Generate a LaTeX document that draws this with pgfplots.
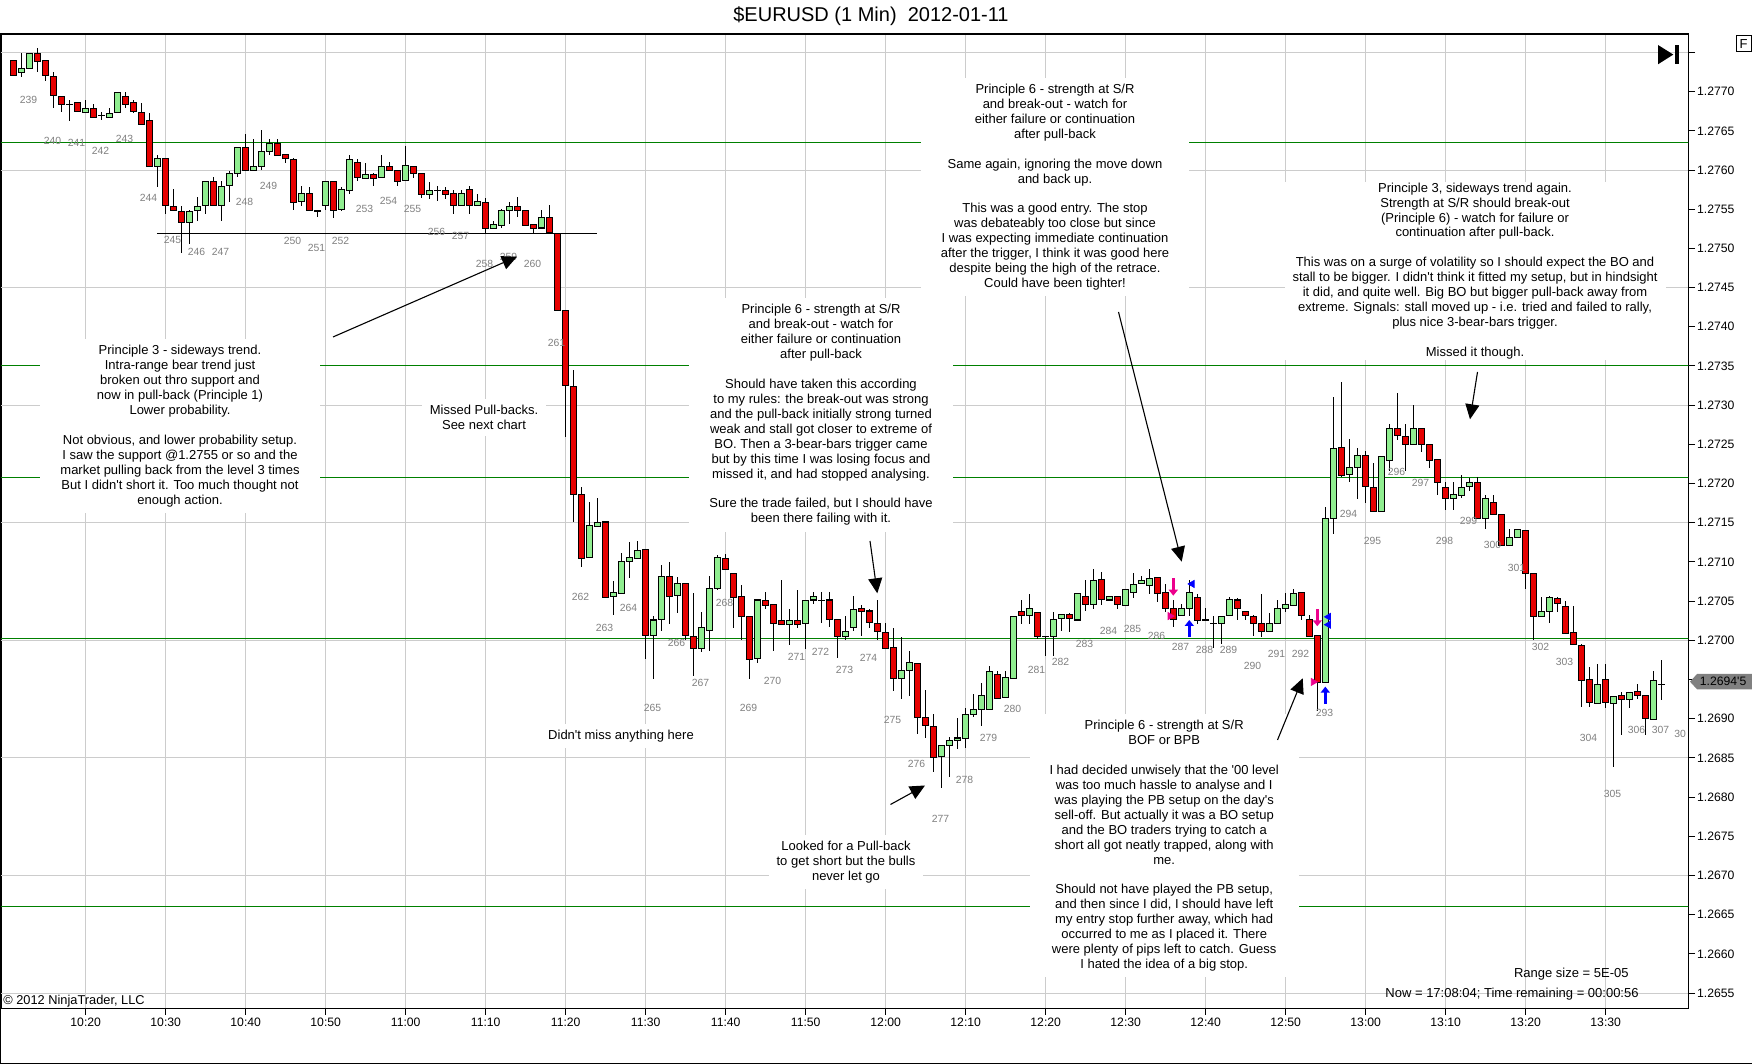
\documentclass[border=0pt]{standalone}
\usepackage{fontspec}
\setmainfont{Liberation Sans}
\newfontfamily\plain{Liberation Sans}
\usepackage{pgfplots}
\usepackage{pgfplotstable}
\pgfplotsset{compat=1.18}
\usetikzlibrary{arrows.meta}
\definecolor{upgreen}{RGB}{144,238,144}
\definecolor{downred}{RGB}{230,0,0}
\definecolor{lvlgreen}{RGB}{0,128,0}
\definecolor{gridgray}{RGB}{204,204,204}
\definecolor{lblgray}{RGB}{128,128,128}
\definecolor{tagray}{RGB}{128,128,128}
\newcommand\tickfont{\plain\fontsize{6.1}{7}\selectfont}
\newcommand\annfont{\plain\fontsize{6.5}{7.47}\selectfont}
\newcommand\barfont{\plain\fontsize{5.2}{6}\selectfont}
\pgfplotsset{nomarks/.style={only marks, mark=*, mark size=0.01pt, mark options={opacity=0, draw opacity=0, fill opacity=0}}}

\pgfplotstableread{
t o h l c
11 1.27740 1.27740 1.27720 1.27720
12 1.27725 1.27751 1.27720 1.27730
13 1.27730 1.27750 1.27730 1.27750
14 1.27750 1.27756 1.27725 1.27740
15 1.27740 1.27740 1.27714 1.27720
16 1.27720 1.27725 1.27680 1.27695
17 1.27695 1.27695 1.27674 1.27685
18 1.27685 1.27690 1.27664 1.27685
19 1.27685 1.27685 1.27674 1.27674
20 1.27674 1.27690 1.27674 1.27680
21 1.27680 1.27685 1.27669 1.27669
22 1.27671 1.27674 1.27664 1.27671
23 1.27669 1.27680 1.27669 1.27674
24 1.27674 1.27700 1.27674 1.27700
25 1.27695 1.27700 1.27680 1.27685
26 1.27685 1.27690 1.27674 1.27674
27 1.27674 1.27685 1.27659 1.27659
28 1.27664 1.27674 1.27605 1.27605
29 1.27605 1.27620 1.27579 1.27615
30 1.27615 1.27615 1.27544 1.27555
31 1.27555 1.27576 1.27549 1.27549
32 1.27549 1.27555 1.27494 1.27535
33 1.27535 1.27549 1.27505 1.27549
34 1.27549 1.27566 1.27535 1.27555
35 1.27555 1.27586 1.27544 1.27586
36 1.27586 1.27591 1.27555 1.27555
37 1.27555 1.27586 1.27535 1.27580
38 1.27580 1.27600 1.27560 1.27596
39 1.27596 1.27630 1.27591 1.27630
40 1.27630 1.27646 1.27600 1.27600
41 1.27600 1.27640 1.27600 1.27605
42 1.27605 1.27651 1.27600 1.27625
43 1.27625 1.27640 1.27620 1.27635
44 1.27635 1.27640 1.27620 1.27620
45 1.27620 1.27620 1.27610 1.27615
46 1.27615 1.27615 1.27549 1.27560
47 1.27560 1.27580 1.27555 1.27570
48 1.27570 1.27580 1.27549 1.27549
49 1.27549 1.27549 1.27540 1.27549
50 1.27555 1.27586 1.27549 1.27586
51 1.27586 1.27586 1.27540 1.27549
52 1.27549 1.27580 1.27549 1.27575
53 1.27575 1.27620 1.27570 1.27615
54 1.27610 1.27615 1.27586 1.27591
55 1.27591 1.27610 1.27591 1.27596
56 1.27596 1.27596 1.27580 1.27591
57 1.27591 1.27620 1.27591 1.27605
58 1.27605 1.27610 1.27600 1.27600
59 1.27600 1.27600 1.27580 1.27586
60 1.27586 1.27630 1.27586 1.27605
61 1.27605 1.27605 1.27591 1.27596
62 1.27596 1.27596 1.27565 1.27570
63 1.27570 1.27586 1.27565 1.27575
64 1.27575 1.27580 1.27560 1.27575
65 1.27575 1.27580 1.27565 1.27570
66 1.27570 1.27575 1.27545 1.27555
67 1.27555 1.27575 1.27555 1.27570
68 1.27575 1.27580 1.27545 1.27555
69 1.27555 1.27570 1.27555 1.27560
70 1.27560 1.27565 1.27520 1.27526
71 1.27526 1.27536 1.27526 1.27531
72 1.27531 1.27550 1.27526 1.27550
73 1.27550 1.27560 1.27531 1.27555
74 1.27555 1.27566 1.27540 1.27550
75 1.27550 1.27550 1.27531 1.27531
76 1.27531 1.27531 1.27520 1.27526
77 1.27526 1.27549 1.27526 1.27540
78 1.27540 1.27555 1.27520 1.27520
79 1.27520 1.27520 1.27421 1.27421
80 1.27421 1.27421 1.27261 1.27325
81 1.27325 1.27346 1.27151 1.27187
82 1.27187 1.27197 1.27095 1.27106
83 1.27106 1.27177 1.27106 1.27147
84 1.27147 1.27182 1.27147 1.27152
85 1.27152 1.27152 1.27056 1.27056
86 1.27056 1.27076 1.27032 1.27061
87 1.27061 1.27111 1.27061 1.27101
88 1.27101 1.27127 1.27081 1.27106
89 1.27106 1.27127 1.27106 1.27116
90 1.27116 1.27116 1.26977 1.27007
91 1.27007 1.27032 1.26952 1.27027
92 1.27027 1.27096 1.27012 1.27082
93 1.27082 1.27101 1.27022 1.27057
94 1.27057 1.27082 1.27037 1.27072
95 1.27072 1.27072 1.27002 1.27006
96 1.27006 1.27062 1.26956 1.26991
97 1.26991 1.27037 1.26986 1.27017
98 1.27012 1.27082 1.26986 1.27066
99 1.27066 1.27111 1.27066 1.27106
100 1.27106 1.27111 1.27092 1.27092
101 1.27087 1.27087 1.27017 1.27057
102 1.27057 1.27072 1.27002 1.27032
103 1.27032 1.27032 1.26952 1.26977
104 1.26977 1.27052 1.26972 1.27052
105 1.27052 1.27062 1.27041 1.27046
106 1.27046 1.27046 1.26986 1.27022
107 1.27027 1.27077 1.27022 1.27022
108 1.27022 1.27041 1.26996 1.27027
109 1.27027 1.27066 1.27017 1.27022
110 1.27022 1.27052 1.26991 1.27052
111 1.27052 1.27062 1.27046 1.27057
112 1.27052 1.27062 1.27022 1.27052
113 1.27052 1.27062 1.27017 1.27027
114 1.27027 1.27027 1.26977 1.27006
115 1.27006 1.27032 1.27002 1.27012
116 1.27017 1.27057 1.27012 1.27041
117 1.27041 1.27046 1.27006 1.27037
118 1.27037 1.27041 1.27017 1.27022
119 1.27022 1.27052 1.27002 1.27012
120 1.27012 1.27022 1.26991 1.26991
121 1.26991 1.27017 1.26937 1.26952
122 1.26952 1.27006 1.26927 1.26962
123 1.26962 1.26987 1.26930 1.26972
124 1.26972 1.26972 1.26882 1.26902
125 1.26902 1.26937 1.26876 1.26892
126 1.26892 1.26907 1.26832 1.26852
127 1.26852 1.26867 1.26812 1.26867
128 1.26867 1.26877 1.26826 1.26873
129 1.26873 1.26902 1.26862 1.26876
130 1.26876 1.26913 1.26862 1.26907
131 1.26907 1.26931 1.26902 1.26913
132 1.26913 1.26947 1.26892 1.26931
133 1.26913 1.26967 1.26913 1.26962
134 1.26957 1.26962 1.26927 1.26927
135 1.26927 1.26962 1.26927 1.26952
136 1.26952 1.27032 1.26952 1.27032
137 1.27037 1.27052 1.27022 1.27032
138 1.27032 1.27061 1.27022 1.27041
139 1.27037 1.27037 1.27002 1.27006
140 1.27006 1.27006 1.26981 1.27006
141 1.27006 1.27037 1.26981 1.27027
142 1.27027 1.27032 1.27012 1.27032
143 1.27032 1.27037 1.27012 1.27027
144 1.27027 1.27061 1.27027 1.27061
145 1.27057 1.27077 1.27037 1.27046
146 1.27046 1.27092 1.27041 1.27077
147 1.27077 1.27088 1.27046 1.27052
148 1.27052 1.27057 1.27052 1.27057
149 1.27056 1.27056 1.27041 1.27046
150 1.27046 1.27066 1.27046 1.27066
151 1.27061 1.27088 1.27056 1.27072
152 1.27072 1.27083 1.27072 1.27076
153 1.27072 1.27092 1.27061 1.27081
154 1.27081 1.27081 1.27049 1.27061
155 1.27061 1.27072 1.27037 1.27041
156 1.27041 1.27052 1.27017 1.27027
157 1.27032 1.27046 1.27032 1.27041
158 1.27041 1.27077 1.27032 1.27061
159 1.27056 1.27061 1.27022 1.27027
160 1.27027 1.27041 1.27027 1.27027
161 1.27022 1.27032 1.26991 1.27022
162 1.27022 1.27032 1.26996 1.27032
163 1.27032 1.27056 1.27032 1.27052
164 1.27052 1.27056 1.27027 1.27041
165 1.27037 1.27037 1.27027 1.27032
166 1.27032 1.27032 1.27006 1.27022
167 1.27022 1.27061 1.27006 1.27012
168 1.27012 1.27037 1.27012 1.27022
169 1.27022 1.27052 1.27022 1.27041
170 1.27041 1.27061 1.27037 1.27046
171 1.27046 1.27066 1.27046 1.27061
172 1.27061 1.27061 1.27027 1.27032
173 1.27027 1.27032 1.27006 1.27006
174 1.27006 1.27006 1.26911 1.26946
175 1.26946 1.27171 1.26946 1.27156
176 1.27156 1.27312 1.27137 1.27246
177 1.27246 1.27330 1.27208 1.27211
178 1.27211 1.27257 1.27202 1.27221
179 1.27221 1.27246 1.27181 1.27236
180 1.27236 1.27242 1.27176 1.27196
181 1.27196 1.27226 1.27166 1.27166
182 1.27166 1.27236 1.27166 1.27236
183 1.27231 1.27277 1.27217 1.27271
184 1.27271 1.27317 1.27257 1.27262
185 1.27262 1.27277 1.27217 1.27251
186 1.27251 1.27302 1.27251 1.27271
187 1.27271 1.27271 1.27241 1.27251
188 1.27251 1.27251 1.27221 1.27231
189 1.27231 1.27231 1.27186 1.27202
190 1.27196 1.27202 1.27166 1.27181
191 1.27181 1.27202 1.27166 1.27186
192 1.27186 1.27211 1.27181 1.27196
193 1.27196 1.27208 1.27192 1.27202
194 1.27202 1.27208 1.27156 1.27156
195 1.27156 1.27186 1.27142 1.27181
196 1.27176 1.27186 1.27161 1.27161
197 1.27161 1.27161 1.27122 1.27122
198 1.27122 1.27142 1.27122 1.27132
199 1.27132 1.27142 1.27132 1.27142
200 1.27142 1.27142 1.27066 1.27087
201 1.27087 1.27087 1.27002 1.27032
202 1.27032 1.27056 1.27032 1.27038
203 1.27038 1.27056 1.27022 1.27056
204 1.27053 1.27056 1.27037 1.27046
205 1.27045 1.27050 1.27010 1.27010
206 1.27010 1.27045 1.26995 1.26995
207 1.26995 1.26995 1.26915 1.26950
208 1.26950 1.26966 1.26915 1.26921
209 1.26921 1.26971 1.26921 1.26945
210 1.26950 1.26971 1.26915 1.26921
211 1.26921 1.26930 1.26840 1.26930
212 1.26930 1.26935 1.26880 1.26925
213 1.26925 1.26935 1.26915 1.26935
214 1.26935 1.26945 1.26925 1.26930
215 1.26930 1.26930 1.26880 1.26900
216 1.26900 1.26961 1.26900 1.26950
217 1.26945 1.26976 1.26925 1.26945
}\candles

\pgfplotstableread{
t y lbl
12.85 1.27690 239
15.85 1.27637 240
18.85 1.27634 241
21.85 1.27624 242
24.85 1.27640 243
27.85 1.27565 244
30.85 1.27511 245
33.85 1.27495 246
36.85 1.27495 247
39.85 1.27559 248
42.85 1.27580 249
45.85 1.27509 250
48.85 1.27501 251
51.85 1.27510 252
54.85 1.27550 253
57.85 1.27560 254
60.85 1.27550 255
63.85 1.27521 256
66.85 1.27516 257
69.85 1.27480 258
72.85 1.27489 259
75.85 1.27480 260
78.85 1.27379 261
81.85 1.27056 262
84.85 1.27016 263
87.85 1.27041 264
90.85 1.26914 265
93.85 1.26997 266
96.85 1.26946 267
99.85 1.27048 268
102.85 1.26914 269
105.85 1.26948 270
108.85 1.26979 271
111.85 1.26985 272
114.85 1.26962 273
117.85 1.26978 274
120.85 1.26898 275
123.85 1.26842 276
126.85 1.26772 277
129.85 1.26822 278
132.85 1.26876 279
135.85 1.26912 280
138.85 1.26962 281
141.85 1.26972 282
144.85 1.26996 283
147.85 1.27012 284
150.85 1.27015 285
153.85 1.27006 286
156.85 1.26992 287
159.85 1.26988 288
162.85 1.26988 289
165.85 1.26967 290
168.85 1.26983 291
171.85 1.26983 292
174.85 1.26908 293
177.85 1.27161 294
180.85 1.27127 295
183.85 1.27215 296
186.85 1.27201 297
189.85 1.27127 298
192.85 1.27153 299
195.85 1.27122 300
198.85 1.27093 301
201.85 1.26992 302
204.85 1.26973 303
207.85 1.26876 304
210.85 1.26804 305
213.85 1.26886 306
216.85 1.26886 307
219.30 1.26881 30
}\barlabels

\begin{document}
\begin{tikzpicture}
\useasboundingbox (-0.5pt,-27.85pt) rectangle (875.5pt,504.15pt);
\begin{axis}[
  at={(0pt,0pt)}, anchor=south west,
  scale only axis, width=843.65pt, height=487.15pt,
  xmin=9.4125, xmax=220.325, ymin=1.265307, ymax=1.277735,
  axis line style={line width=0.6pt, black},
  tick align=outside, major tick length=3.35pt,
  tick style={black, line width=0.5pt},
  xtick={20,30,40,50,60,70,80,90,100,110,120,130,140,150,160,170,180,190,200,210},
  xticklabels={10:20,10:30,10:40,10:50,11:00,11:10,11:20,11:30,11:40,11:50,12:00,12:10,12:20,12:30,12:40,12:50,13:00,13:10,13:20,13:30},
  xtick pos=left,
  xmajorgrids,
  grid style={draw=gridgray, line width=0.5pt},
  ytick={1.2655,1.266,1.2665,1.267,1.2675,1.268,1.2685,1.269,1.2695,1.27,1.2705,1.271,1.2715,1.272,1.2725,1.273,1.2735,1.274,1.2745,1.275,1.2755,1.276,1.2765,1.277,1.2775},
  yticklabels={1.2655,1.2660,1.2665,1.2670,1.2675,1.2680,1.2685,1.2690,{},1.2700,1.2705,1.2710,1.2715,1.2720,1.2725,1.2730,1.2735,1.2740,1.2745,1.2750,1.2755,1.2760,1.2765,1.2770,{}},
  scaled y ticks=false,
  ytick pos=right, yticklabel pos=right,
  extra y ticks={1.2655,1.2670,1.2685,1.2700,1.2715,1.2730,1.2745,1.2760,1.2775},
  extra y tick labels={},
  extra y tick style={grid=major, major tick length=0pt},
  yticklabel style={anchor=west, inner xsep=0.85pt, font=\tickfont},
  xticklabel style={inner ysep=1.5pt, font=\tickfont},
]
% level lines
\addplot[lvlgreen, line width=0.55pt] coordinates {(9.4,1.27635) (220.4,1.27635)};
\addplot[lvlgreen, line width=0.55pt] coordinates {(9.4,1.27351) (220.4,1.27351)};
\addplot[lvlgreen, line width=0.55pt] coordinates {(9.4,1.27208) (220.4,1.27208)};
\addplot[lvlgreen, line width=0.55pt] coordinates {(9.4,1.27002) (220.4,1.27002)};
\addplot[lvlgreen, line width=0.55pt] coordinates {(9.4,1.26661) (220.4,1.26661)};
\addplot[black, line width=0.6pt] coordinates {(28.9,1.27519) (83.95,1.27519)};
% wicks
\addplot[nomarks, error bars/.cd, y dir=both, y explicit, error mark=none,
  error bar style={line width=0.6pt, black, opacity=1}]
  table[x=t, y expr={(\thisrow{h}+\thisrow{l})/2}, y error expr={(\thisrow{h}-\thisrow{l})/2}] {\candles};
% body outline
\addplot[nomarks, error bars/.cd, y dir=both, y explicit, error mark=none,
  error bar style={line width=3.35pt, black, opacity=1}]
  table[x=t, y expr={(\thisrow{o}+\thisrow{c})/2}, y error expr={abs(\thisrow{o}-\thisrow{c})/2+0.0000065}] {\candles};
% up bodies
\addplot[nomarks, error bars/.cd, y dir=both, y explicit, error mark=none,
  error bar style={line width=2.35pt, upgreen, opacity=1}]
  table[x=t, y expr={(\thisrow{o}+\thisrow{c})/2}, y error expr={max((\thisrow{c}-\thisrow{o})/2-0.0000065,0)}] {\candles};
% down bodies
\addplot[nomarks, error bars/.cd, y dir=both, y explicit, error mark=none,
  error bar style={line width=2.35pt, downred, opacity=1}]
  table[x=t, y expr={(\thisrow{o}+\thisrow{c})/2}, y error expr={max((\thisrow{o}-\thisrow{c})/2-0.0000065,0)}] {\candles};
% bar numbers
\addplot[nomarks, nodes near coords, point meta=explicit symbolic,
  nodes near coords align=center,
  every node near coord/.style={font=\barfont, text=lblgray, anchor=center, inner sep=0pt, opacity=1}]
  table[x=t, y=y, meta=lbl] {\barlabels};
% execution markers
\addplot[magenta, line width=1.4pt, -{Triangle[length=3pt,width=4.5pt]}] coordinates {(155.95,1.27079) (155.95,1.27057)};
\addplot[magenta, line width=1.4pt, -{Triangle[length=3pt,width=4.5pt]}] coordinates {(173.95,1.27040) (173.95,1.27018)};
\addplot[blue, line width=1.4pt, -{Triangle[length=3pt,width=4.5pt]}] coordinates {(157.95,1.27004) (157.95,1.27026)};
\addplot[blue, line width=1.4pt, -{Triangle[length=3pt,width=4.5pt]}] coordinates {(174.95,1.26919) (174.95,1.26941)};
\addplot[only marks, magenta, mark=triangle*, mark size=2pt, mark options={rotate=-90}] coordinates {(155.55,1.27031) (173.45,1.26947)};
\addplot[only marks, blue, mark=triangle*, mark size=2pt, mark options={rotate=90}] coordinates {(158.3,1.27072) (175.35,1.27030) (175.35,1.27020)};
\end{axis}

\begin{scope}[x=0.5pt, y=-0.5pt, shift={(-0.5pt,504.15pt)}]
% outer frame
\draw[line width=0.5pt] (0.5,34) -- (0.5,1063.5) -- (1751.5,1063.5);
% title
\node[font=\plain\fontsize{10}{12}\selectfont] at (871,16) {\$EURUSD (1 Min)\ \ 2012-01-11};
\node[draw, line width=0.5pt, inner sep=0pt, minimum width=7.5pt, minimum height=8pt, font=\plain\fontsize{6.5}{7}\selectfont] at (1743.5,44) {F};
\fill (1658,45) -- (1673.3,54.6) -- (1658,64.3) -- cycle;
\fill (1674.5,45) rectangle (1679,64.3);
% current price tag
\fill[tagray] (1690,681.7) -- (1697,674) -- (1752,674) -- (1752,689.3) -- (1697,689.3) -- cycle;
\node[anchor=west, inner sep=0pt, font=\tickfont] at (1699.5,681.7) {1.2694'5};
% footer texts
\node[anchor=west, inner sep=0pt, font=\plain\fontsize{6.4}{7}\selectfont] at (3,1000.7) {\textcopyright{} 2012 NinjaTrader, LLC};
\node[anchor=east, inner sep=0pt, font=\annfont] at (1629,974) {Range size = 5E-05};
\node[anchor=east, inner sep=0pt, font=\annfont] at (1639,994.3) {Now = 17:08:04; Time remaining = 00:00:56};
% annotations
\tikzset{ann/.style={fill=white, inner xsep=10pt, inner ysep=3pt, align=center, font=\annfont}}
\node[ann] at (180,426) {Principle 3 - sideways trend.\\ Intra-range bear trend just\\ broken out thro support and\\ now in pull-back (Principle 1)\\ Lower probability.\\[7.47pt] Not obvious, and lower probability setup.\\ I saw the support @1.2755 or so and the\\ market pulling back from the level 3 times\\ But I didn't short it. Too much thought not\\ enough action.};
\node[ann, inner xsep=4pt] at (484,417.5) {Missed Pull-backs.\\ See next chart};
\node[ann] at (821,415) {Principle 6 - strength at S/R\\ and break-out - watch for\\ either failure or continuation\\ after pull-back\\[7.47pt] Should have taken this according\\ to my rules: the break-out was strong\\ and the pull-back initially strong turned\\ weak and stall got closer to extreme of\\ BO. Then a 3-bear-bars trigger came\\ but by this time I was losing focus and\\ missed it, and had stopped analysing.\\[7.47pt] Sure the trade failed, but I should have\\ been there failing with it.};
\node[ann, inner xsep=4pt] at (621,736) {Didn't miss anything here};
\node[ann, inner xsep=4pt] at (846,862.5) {Looked for a Pull-back\\ to get short but the bulls\\ never let go};
\node[ann] at (1055,187.2) {Principle 6 - strength at S/R\\ and break-out - watch for\\ either failure or continuation\\ after pull-back\\[7.47pt] Same again, ignoring the move down\\ and back up.\\[7.47pt] This was a good entry. The stop\\ was debateably too close but since\\ I was expecting immediate continuation\\ after the trigger, I think it was good here\\ despite being the high of the retrace.\\ Could have been tighter!};
\node[ann, inner ysep=0.5pt, inner xsep=4pt] at (1475,271) {Principle 3, sideways trend again.\\ Strength at S/R should break-out\\ (Principle 6) - watch for failure or\\ continuation after pull-back.\\[7.47pt] This was on a surge of volatility so I should expect the BO and\\ stall to be bigger. I didn't think it fitted my setup, but in hindsight\\ it did, and quite well. Big BO but bigger pull-back away from\\ extreme. Signals: stall moved up - i.e. tried and failed to rally,\\ plus nice 3-bear-bars trigger.\\[7.47pt] Missed it though.};
\node[ann] at (1164.2,845.8) {Principle 6 - strength at S/R\\ BOF or BPB\\[7.47pt] I had decided unwisely that the '00 level\\ was too much hassle to analyse and I\\ was playing the PB setup on the day's\\ sell-off. But actually it was a BO setup\\ and the BO traders trying to catch a\\ short all got neatly trapped, along with\\ me.\\[7.47pt] Should not have played the PB setup,\\ and then since I did, I should have left\\ my entry stop further away, which had\\ occurred to me as I placed it. There\\ were plenty of pips left to catch. Guess\\ I hated the idea of a big stop.};
% arrows
\tikzset{arr/.style={line width=0.55pt, -{Triangle[length=7.5pt,width=7pt]}}}
\draw[arr] (333,337) -- (517,256.7);
\draw[arr] (870,541) -- (877.3,593.3);
\draw[arr] (890.5,804.5) -- (925,785.5);
\draw[arr] (1118.5,312) -- (1181.7,561.7);
\draw[arr] (1277.5,740) -- (1302.7,678.3);
\draw[arr] (1477.5,372) -- (1470,419.3);
\end{scope}
\end{tikzpicture}
\end{document}
